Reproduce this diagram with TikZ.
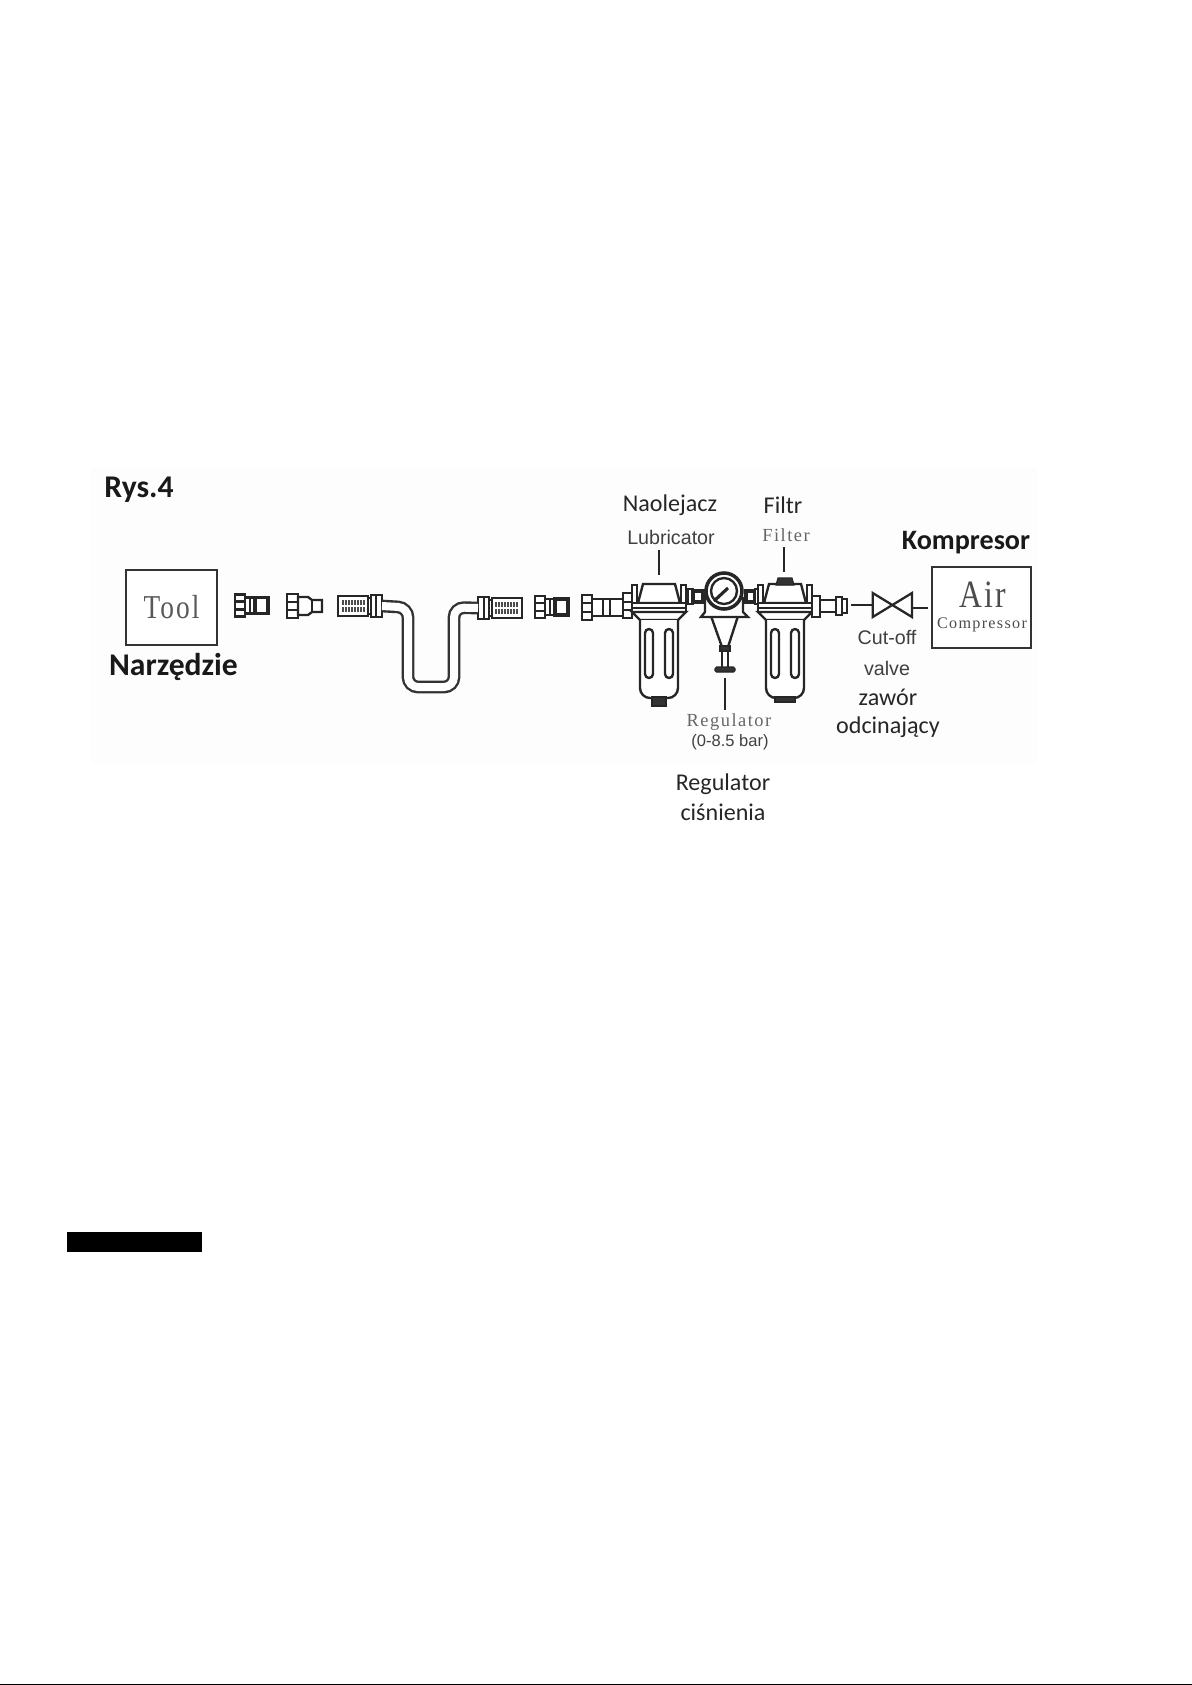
\documentclass[tikz,border=0pt]{standalone}
\usepackage{fontspec}
\setmainfont{Carlito}
\newfontfamily\arialfont{Liberation Sans}
\newfontfamily\timesfont[LetterSpace=8]{Liberation Serif}
\newfontfamily\narrowfont[FakeStretch=0.82,LetterSpace=6]{Liberation Serif}

\tikzset{
    part/.style={draw=black!85, fill=white, line width=1.35pt},
    dark/.style={draw=black!85, fill=black!80, line width=0.6pt},
    leader/.style={draw=black!85, line width=1.3pt},
    hose/.style={draw=black!80, line width=1.35pt, double=white, double distance=0.16cm, rounded corners=0.2cm},
    box/.style={draw=black!80, line width=1.4pt, fill=white},
    head/.style={font=\bfseries\fontsize{18}{20}\selectfont, text=black!90},
    plain/.style={font=\fontsize{13.7}{16}\selectfont, text=black!85},
    arial/.style={font=\arialfont\fontsize{11.2}{13}\selectfont, text=black!75},
    print/.style={font=\timesfont\fontsize{10.5}{13}\selectfont, text=black!60},
    plug/.pic={
        \draw[part] (0,-11) rectangle (10,11);
        \draw[part] (0,-4) -- (10,-4) (0,4) -- (10,4);
        \draw[part] (10,-8) rectangle (20,8);
        \draw[part] (15,-8) -- (15,8);
        \draw[part, line width=1.8pt] (20,-8) rectangle (33,8);
    },
    cone/.pic={
        \draw[part] (0,-12) rectangle (11,12);
        \draw[part] (0,-4) -- (11,-4) (0,4) -- (11,4);
        \draw[part] (11,-9) -- (21,-9) -- (25,-6) -- (35,-6) -- (35,6) -- (25,6) -- (21,9) -- (11,9) -- cycle;
        \draw[part] (25,-6) -- (25,6);
    },
    thread/.pic={
        \draw[part] (0,-10) rectangle (30,10);
        \foreach \x in {5,8,...,26}
            \draw[black!70, line width=0.6pt] (\x,-6) -- (\x,-1) (\x,1) -- (\x,6);
        \draw[part] (30,-8) rectangle (33,8);
        \draw[part] (33,-11) rectangle (44,11);
        \draw[part] (38,-11) -- (38,11);
        \coordinate (-end) at (44,0);
    },
    bowl/.pic={
        \draw[part] (-27,-35) rectangle (-22,-15);
        \draw[part] (22,-35) rectangle (27,-15);
        \draw[part] (-16,-36) -- (16,-36) -- (21,-17) -- (-21,-17) -- cycle;
        \draw[part] (-27,-17) rectangle (27,-12);
        \draw[part] (-27,-12) rectangle (27,-8);
        \draw[part] (-27,-8) -- (-19,0) -- (19,0) -- (27,-8) -- cycle;
        \draw[part, rounded corners=0.2cm] (-19,0) -- (-19,78) -- (19,78) -- (19,0);
        \draw[part, rounded corners=0.08cm] (-14,9) rectangle (-6,58);
        \draw[part, rounded corners=0.08cm] (6,9) rectangle (14,58);
    }
}

\begin{document}
\begin{tikzpicture}[x=0.02cm, y=-0.02cm]
    \useasboundingbox (0,0) rectangle (1192,1685);
    \fill[black!0.6] (91,468) rectangle (1037,763);

    % 枠
    \node[box, minimum width=1.82cm, minimum height=1.5cm, font=\narrowfont\fontsize{19}{20}\selectfont, text=black!65] (tool) at (171.5,607.5) {Tool};
    \node[box, minimum width=1.98cm, minimum height=1.62cm] (comp) at (981.5,607.5) {};

    % 継手
    \pic at (235,605.5) {plug};
    \pic at (287,606) {cone};
    \pic (fitC) at (338,606) {thread};
    \pic[xscale=-1] (fitD) at (522,608) {thread};
    \pic at (535,607) {plug};

    \draw[part] (582,595) rectangle (592,620);
    \draw[part] (582,603) -- (592,603) (582,612) -- (592,612);
    \draw[part] (592,599) rectangle (623,616);
    \draw[part] (603,599) -- (603,616) (610,599) -- (610,616);
    \draw[part] (623,593) rectangle (632,618);
    \draw[part] (623,602) -- (632,602) (623,610) -- (632,610);

    % ホース
    \draw[hose] (fitC-end) -- (408,607.5) -- (408,687) -- (454,687) -- (454,607.5) -- (fitD-end);

    % 本体
    \draw[part] (688,589) rectangle (693,604);
    \draw[part, line width=1.8pt] (693,591) rectangle (703,602);
    \draw[part, line width=1.8pt] (746,591) rectangle (755,602);
    \draw[part] (755,589) rectangle (760,604);

    \pic at (659,620) {bowl};
    \draw[dark] (652,697) -- (666,697) -- (666,706) -- (652,706) -- cycle;

    \pic at (785,620) {bowl};
    \draw[dark] (778,578) -- (792,578) -- (794,585) -- (776,585) -- cycle;
    \draw[dark] (775,697) rectangle (795,702);

    \draw[part] (711,616) -- (722,647) -- (728,647) -- (738,616) -- cycle;
    \draw[part] (705,598) -- (705,612) -- (701,617) -- (748,617) -- (743,612) -- (743,598) -- cycle;
    \draw[part] (722,647) -- (722,668) (728,647) -- (728,668);
    \draw[dark] (720,646) rectangle (730,651);
    \draw[dark, rounded corners=0.03cm] (715,667) rectangle (735,672);
    \draw[part, line width=2pt] (724,591) circle (18);
    \draw[part] (724,591) circle (13);
    \draw[black!85, line width=1.8pt] (714,601) -- (728,588);

    \draw[part] (812,596) rectangle (820,617);
    \draw[part] (820,600) rectangle (836,612);
    \draw[part] (836,597) rectangle (842,615);
    \draw[part] (842,599) rectangle (847,613);

    % バルブ
    \coordinate (pipeA) at (851,605);
    \coordinate (valveL) at (872.7,605);
    \coordinate (valveR) at (912,608);
    \coordinate (pipeB) at (928,608);
    \draw[leader] (872.7,593) -- (912,617) -- (912,593) -- (872.7,617) -- cycle;
    \draw[leader] (pipeA) -- (valveL);
    \draw[leader] (valveR) -- (pipeB);

    % 線を引く
    \coordinate (lubA) at (659,550);
    \coordinate (lubB) at (659,575);
    \coordinate (filA) at (784,547);
    \coordinate (filB) at (784,572);
    \coordinate (regA) at (725,678);
    \coordinate (regB) at (725,710);
    \draw[leader] (lubA) -- (lubB);
    \draw[leader] (filA) -- (filB);
    \draw[leader] (regA) -- (regB);

    % 文字
    \node[head] (rys) at (139,490) {Rys.4};
    \node[head] (narz) at (173.5,667) {Narzędzie};
    \node[head, font=\bfseries\fontsize{16}{20}\selectfont] (komp) at (966,543) {Kompresor};
    \node[plain] (naol) at (670,505) {Naolejacz};
    \node[plain] (filtr) at (783,505) {Filtr};
    \node[plain] (reg) at (723,784) {Regulator};
    \node[plain] (cisn) at (723,812) {ciśnienia};
    \node[plain] (zawor) at (888,697) {zawór};
    \node[plain] (odc) at (888,727) {odcinający};
    \node[arial] (lub) at (671,537) {Lubricator};
    \node[arial] (cut) at (887,637) {Cut-off};
    \node[arial] (valve) at (887,668) {valve};
    \node[arial, font=\arialfont\fontsize{9.4}{12}\selectfont] (bar) at (730,742) {(0-8.5 bar)};
    \node[print] (filter) at (786,535) {Filter};
    \node[print] (regen) at (729,722) {Regulator};
    \node[print, font=\narrowfont\fontsize{22}{24}\selectfont, text=black!70] (air) at (983,595) {Air};
    \node[print, font=\timesfont\fontsize{9.2}{12}\selectfont, text=black!70] (compr) at (982,625) {Compressor};

    % 下の黒
    \fill[black] (67,1232) rectangle (202,1252);
    \fill[black] (0,1684) rectangle (1192,1685);
\end{tikzpicture}
\end{document}
